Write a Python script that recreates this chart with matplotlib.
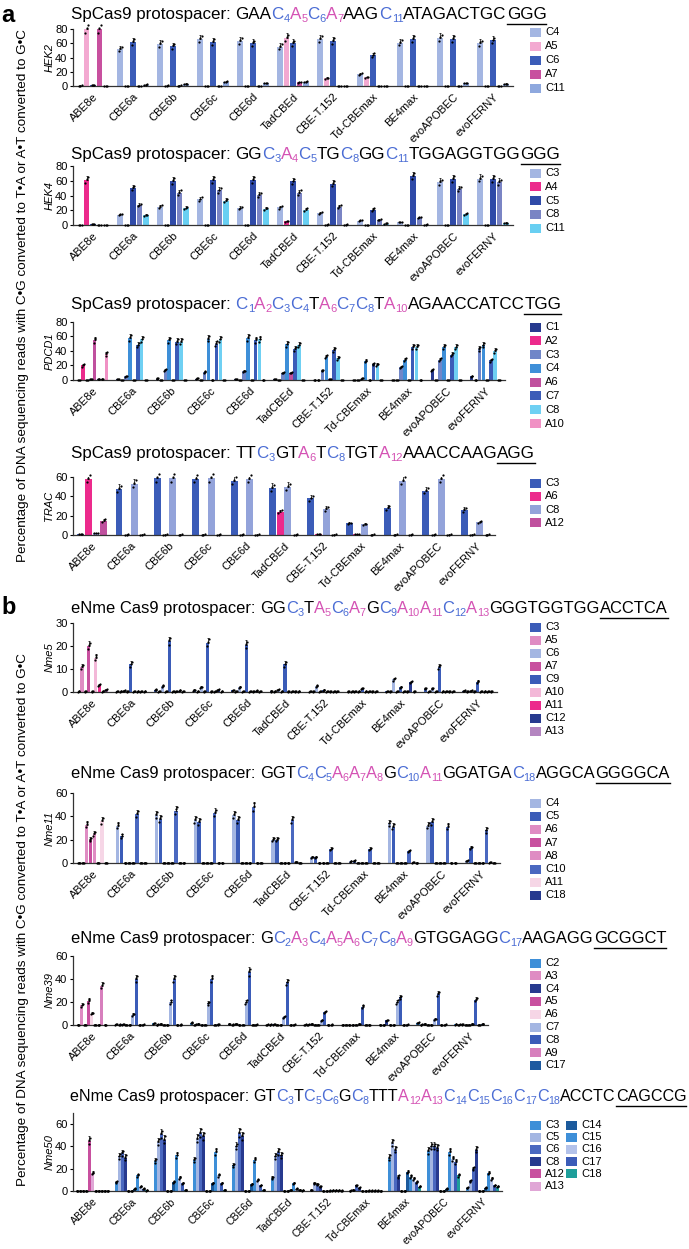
import re
import numpy as np
import matplotlib
matplotlib.use('Agg')
import matplotlib.pyplot as plt
from matplotlib.patches import Rectangle
from matplotlib.lines import Line2D
from matplotlib.transforms import IdentityTransform, ScaledTranslation

plt.rcParams['font.family'] = ['Liberation Sans', 'DejaVu Sans']

# ---------------- data ----------------
EDITORS = ['ABE8e', 'CBE6a', 'CBE6b', 'CBE6c', 'CBE6d', 'TadCBEd', 'CBE-T.152',
           'Td-CBEmax', 'BE4max', 'evoAPOBEC', 'evoFERNY']

HEK2_SITES = ['C4', 'A5', 'C6', 'A7', 'C11']
HEK2_VALUES = [
    [0.5, 80, 1, 80, 0.3],
    [52, 0.3, 62, 0.3, 2],
    [59, 0.5, 56, 0.5, 3],
    [66, 0.3, 62, 0.3, 6],
    [63, 0.3, 60, 0.3, 4],
    [55, 68, 60, 5, 6],
    [66, 11, 63, 0.3, 0.3],
    [17, 12, 43, 0.3, 0.3],
    [61, 0.3, 66, 0.3, 0.3],
    [68, 0.3, 66, 0.3, 4],
    [60, 0.3, 64, 0.3, 3],
]

HEK4_SITES = ['C3', 'A4', 'C5', 'C8', 'C11']
HEK4_VALUES = [
    [0.3, 61, 1, 0.3, 0.3],
    [14, 0.3, 50, 27, 13],
    [25, 0.3, 60, 44, 23],
    [35, 0.3, 61, 47, 33],
    [23, 0.3, 61, 41, 22],
    [24, 5, 59, 44, 21],
    [16, 0.5, 56, 25, 0.5],
    [6, 0.3, 21, 7, 2],
    [4, 0.3, 66, 10, 0.5],
    [58, 0.3, 62, 49, 15],
    [63, 0.3, 62, 58, 3],
]

PDCD1_SITES = ['C1', 'A2', 'C3', 'C4', 'A6', 'C7', 'C8', 'A10']
PDCD1_VALUES = [
    [0.3, 20, 0.3, 1, 55, 1, 1, 36],
    [1, 0.3, 5, 58, 0.3, 48, 56, 0.3],
    [2, 0.3, 14, 55, 0.3, 53, 53, 0.3],
    [2, 0.3, 11, 57, 0.3, 50, 56, 0.3],
    [1, 0.3, 12, 58, 0.3, 55, 56, 0.3],
    [1, 0.3, 10, 49, 10, 43, 48, 0.3],
    [0.3, 0.3, 13, 32, 1, 42, 30, 0.3],
    [0.3, 0.3, 2, 26, 0.3, 22, 21, 0.3],
    [0.3, 0.3, 18, 28, 0.3, 46, 46, 0.3],
    [14, 0.3, 28, 46, 0.3, 35, 45, 0.3],
    [5, 0.3, 43, 48, 0.3, 27, 40, 0.3],
]

TRAC_SITES = ['C3', 'A6', 'C8', 'A12']
TRAC_VALUES = [
    [1, 58, 2, 15],
    [48, 0.3, 53, 0.3],
    [59, 0.3, 59, 0.3],
    [58, 0.3, 59, 0.3],
    [56, 0.3, 58, 0.3],
    [49, 24, 50, 0.3],
    [38, 1, 27, 0.3],
    [12, 1, 11, 0.3],
    [28, 0.3, 56, 0.3],
    [46, 0.3, 58, 0.3],
    [26, 0.3, 13, 0.3],
]

NME5_SITES = ['C3', 'A5', 'C6', 'A7', 'C9', 'A10', 'A11', 'C12', 'A13']
NME5_VALUES = [
    [0.2, 11, 0.2, 20, 0.2, 15, 3, 0.2, 1],
    [0.3, 0.2, 0.5, 0.2, 12, 0.2, 0.2, 0.2, 0.2],
    [1, 0.2, 2.5, 0.2, 22, 0.2, 0.2, 0.6, 0.2],
    [0.8, 0.2, 2, 0.2, 21.5, 0.2, 0.2, 1, 0.2],
    [0.7, 0.2, 2, 0.2, 20.5, 0.2, 0.2, 0.5, 0.2],
    [0.4, 0.2, 1, 0.2, 12, 0.2, 0.2, 0.3, 0.2],
    [0.2, 0.2, 2.5, 0.2, 0.8, 0.2, 0.2, 0.2, 0.2],
    [0.2, 0.2, 0.3, 0.2, 1.5, 0.2, 0.2, 0.2, 0.2],
    [0.3, 0.2, 5.5, 0.2, 2, 0.2, 0.2, 4.3, 0.2],
    [1.5, 0.2, 1.5, 0.2, 11, 0.2, 0.2, 0.3, 0.2],
    [0.5, 0.2, 0.5, 0.2, 4.5, 0.2, 0.2, 0.2, 0.2],
]

NME11_SITES = ['C4', 'C5', 'A6', 'A7', 'A8', 'C10', 'A11', 'C18']
NME11_VALUES = [
    [0.2, 0.2, 33, 20, 25, 0.2, 36, 0.2],
    [32, 23, 0.2, 0.2, 0.2, 42, 0.2, 0.2],
    [41, 38, 0.2, 0.2, 0.2, 45, 0.2, 0.2],
    [37, 35, 0.2, 0.2, 0.2, 43, 0.2, 0.2],
    [41, 37, 0.2, 0.2, 0.2, 48, 0.2, 0.2],
    [20, 20, 0.2, 0.2, 0.2, 37, 1, 0.2],
    [5, 5, 0.2, 0.2, 0.2, 12, 0.2, 0.2],
    [1.5, 2, 0.2, 0.2, 0.2, 12, 0.2, 0.2],
    [34, 31, 0.2, 0.2, 0.2, 10, 0.5, 0.2],
    [32, 35, 0.2, 0.2, 0.2, 31, 0.2, 0.2],
    [2, 13, 0.2, 0.2, 0.2, 28, 0.5, 0.2],
]

NME39_SITES = ['C2', 'A3', 'C4', 'A5', 'A6', 'C7', 'C8', 'A9', 'C17']
NME39_VALUES = [
    [0.2, 17, 0.2, 21, 10, 0.2, 0.2, 34, 0.2],
    [0.5, 0.3, 0.5, 0.2, 0.2, 9, 40, 0.2, 0.3],
    [1.5, 0.3, 1, 0.2, 0.2, 20, 40, 0.2, 0.3],
    [2, 0.3, 1, 0.2, 0.2, 19, 40, 0.2, 0.5],
    [1, 0.3, 1, 0.2, 0.2, 20, 46, 0.2, 0.3],
    [0.3, 0.3, 0.5, 0.2, 0.2, 7, 37, 0.2, 0.3],
    [0.3, 0.3, 1, 0.2, 0.2, 4, 11, 0.2, 0.3],
    [0.2, 0.2, 0.2, 0.2, 0.2, 1, 16, 0.2, 0.2],
    [0.2, 0.2, 4, 0.2, 0.2, 20, 24, 0.2, 0.3],
    [2, 0.3, 1, 0.2, 0.2, 5, 27, 0.2, 0.3],
    [0.5, 0.3, 0.5, 0.2, 0.2, 1, 22, 0.2, 1],
]

NME50_SITES = ['C3', 'C5', 'C6', 'C8', 'A12', 'A13', 'C14', 'C15', 'C16', 'C17', 'C18']
NME50_VALUES = [
    [0.2, 0.2, 0.2, 0.2, 45, 16, 0.2, 0.2, 0.2, 0.2, 0.2],
    [8, 31, 34, 30, 0.2, 0.2, 2, 14, 4, 2, 0.5],
    [27, 44, 51, 46, 0.2, 0.2, 8, 32, 12, 7, 1],
    [28, 47, 52, 49, 0.2, 0.2, 7, 35, 14, 7, 1],
    [23, 40, 52, 49, 0.2, 0.2, 6, 28, 10, 5, 1],
    [12, 31, 35, 32, 0.2, 0.2, 1, 7, 2, 1, 0.5],
    [1, 7, 6, 4, 0.2, 0.2, 0.3, 0.5, 0.5, 0.5, 0.3],
    [0.3, 1, 5, 3, 0.2, 0.2, 0.3, 0.3, 0.3, 0.3, 0.2],
    [30, 43, 37, 13, 0.2, 0.2, 17, 13, 11, 8, 4],
    [36, 40, 40, 39, 0.2, 0.2, 2, 35, 29, 26, 14],
    [3, 9, 20, 37, 0.2, 0.2, 3, 16, 11, 5, 4],
]

TITLES = [
    ('SpCas9 protospacer: ', 'GAA[C4][A5][C6][A7]AAG[C11]ATAGACTGC|GGG'),
    ('SpCas9 protospacer: ', 'GG[C3][A4][C5]TG[C8]GG[C11]TGGAGGTGG|GGG'),
    ('SpCas9 protospacer: ', '[C1][A2][C3][C4]T[A6][C7][C8]T[A10]AGAACCATCC|TGG'),
    ('SpCas9 protospacer: ', 'TT[C3]GT[A6]T[C8]TGT[A12]AAACCAAG|AGG'),
    ('eNme Cas9 protospacer: ', 'GG[C3]T[A5][C6][A7]G[C9][A10][A11][C12][A13]GGGTGGTGG|ACCTCA'),
    ('eNme Cas9 protospacer: ', 'GGT[C4][C5][A6][A7][A8]G[C10][A11]GGATGA[C18]AGGCA|GGGGCA'),
    ('eNme Cas9 protospacer: ', 'G[C2][A3][C4][A5][A6][C7][C8][A9]GTGGAGG[C17]AAGAGG|GCGGCT'),
    ('eNme Cas9 protospacer: ', 'GT[C3]T[C5][C6]G[C8]TTT[A12][A13][C14][C15][C16][C17][C18]ACCTC|CAGCCG'),
]

YLABEL = 'Percentage of DNA sequencing reads with C\u2022G converted to T\u2022A or A\u2022T converted to G\u2022C'

# ---------------- styles ----------------
LB = '#a4b6e2'; BL = '#3b5cb8'; NV = '#273a8f'; SL = '#7a84c4'; SK = '#3e8fd8'
CY = '#68cff2'; TE = '#1e9e9a'; LP = '#f3a9d1'; HP = '#ec2a8c'; MG = '#c8509f'
PK = '#df8cc3'; VLP = '#f6d6e6'; PP = '#b485c0'

HEK2_COLORS = [LB, LP, BL, MG, '#8ea8de']
HEK4_COLORS = [LB, HP, '#2f4aa8', SL, CY]
PDCD1_COLORS = [NV, HP, '#7086c8', SK, '#c0509e', BL, '#6fd0f3', '#f091c4']
TRAC_COLORS = [BL, HP, '#93a3da', '#c0509e']
NME5_COLORS = [BL, PK, LB, MG, BL, '#f3b8d8', HP, NV, PP]
NME11_COLORS = [LB, BL, PK, MG, PK, '#4a68c0', VLP, NV]
NME39_COLORS = [SK, PK, NV, MG, VLP, LB, BL, '#d77fbd', '#1e5aa0']
NME50_COLORS = [SK, LB, '#4a68c0', NV, MG, '#e0a6d6', '#1c5a9c', SK, '#b3c2ea', BL, TE]

SEQ_C = '#4a6cd4'
SEQ_A = '#d452b4'

W, H = 689, 1249
fig = plt.figure(figsize=(W / 100, H / 100), dpi=100)
renderer = fig.canvas.get_renderer()


def fx(x):
    return x / W


def fy(y):
    return 1 - y / H


def parse(markup):
    segs = []
    ul = False
    buf = ''
    for base, num, bar, plain in re.findall(r'\[([AC])(\d+)\]|(\|)|([A-Z])', markup):
        if plain:
            buf += plain
            continue
        if buf:
            segs.append((buf, 'black', False, ul))
            buf = ''
        if bar:
            ul = True
        else:
            col = SEQ_C if base == 'C' else SEQ_A
            segs.append((base, col, False, ul))
            segs.append((num, col, True, ul))
    if buf:
        segs.append((buf, 'black', False, ul))
    return segs


def draw_title(prefix, markup, x0, yc, fs, keep=True):
    fpx = fs * 100 / 72
    base = H - yc - fpx * 0.36
    x = x0
    arts = []
    ul_start = None
    segs = [(prefix, 'black', False, False)] + parse(markup)
    for text, col, sub, ul in segs:
        size = fs * 0.66 if sub else fs
        yb = base - (fpx * 0.2 if sub else 0)
        t = fig.text(x, yb, text, fontsize=size, color=col, va='baseline', ha='left',
                     transform=IdentityTransform())
        arts.append(t)
        wdt = t.get_window_extent(renderer).width
        if ul and ul_start is None:
            ul_start = x
        x += wdt
    if keep:
        fig.add_artist(Line2D([ul_start, x], [base - fpx * 0.3] * 2, color='black', lw=1.0,
                              transform=IdentityTransform()))
    else:
        for a in arts:
            a.remove()
    return x - x0


def panel(sites, colors, values, top, bottom, ymax, yticks, ylabel, left=73, right=510, gw=0.8,
          xfs=8):
    ax = fig.add_axes([fx(left), fy(bottom), (right - left) / W, (bottom - top) / H])
    vals = np.array(values, dtype=float)
    n = len(sites)
    w = gw / n
    x = np.arange(len(EDITORS))
    for j in range(n):
        xs = x - gw / 2 + w * (j + 0.5)
        v = vals[:, j]
        ax.bar(xs, v, width=w * 0.9, color=colors[j], edgecolor='none', zorder=2)
        spread = 0.06 * v + 0.2
        ax.errorbar(xs, v, yerr=[np.zeros_like(v), spread * 1.4], fmt='none', ecolor='black',
                    elinewidth=0.5, capsize=0.8, capthick=0.5, zorder=3)
        for k, d in enumerate((-1.0, 0.3, 1.0)):
            ax.scatter(xs + (k - 1) * w * 0.22, v + d * spread, s=2.6, color='black',
                       linewidths=0, zorder=4, clip_on=False)
    ax.set_xlim(-0.5, len(EDITORS) - 0.5)
    ax.set_ylim(0, ymax)
    ax.set_yticks(yticks)
    ax.set_xticks(x)
    ax.set_xticklabels(EDITORS, rotation=45, ha='right', rotation_mode='anchor', fontsize=xfs)
    shift = ScaledTranslation(8 / 100, 0, fig.dpi_scale_trans)
    for lab in ax.get_xticklabels():
        lab.set_transform(lab.get_transform() + shift)
    ax.tick_params(axis='x', length=0, pad=4)
    ax.tick_params(axis='y', length=2.5, width=0.8, labelsize=8, pad=1.5)
    for s in ('top', 'right'):
        ax.spines[s].set_visible(False)
    for s in ('left', 'bottom'):
        ax.spines[s].set_linewidth(0.9)
        ax.spines[s].set_color('#333333')
    ax.set_ylabel(ylabel, fontstyle='italic', fontsize=8, labelpad=0.5)
    ax.patch.set_alpha(0)
    return ax


def legend(sites, colors, x0, ytop, dy, split=None, colw=36):
    for i, (s, c) in enumerate(zip(sites, colors)):
        col = 0 if (split is None or i < split) else 1
        row = i if col == 0 else i - split
        bx = x0 + col * colw
        cy = ytop + row * dy
        fig.add_artist(Rectangle((fx(bx), fy(cy + 4.5)), 11 / W, 9 / H, transform=fig.transFigure,
                                 facecolor=c, edgecolor='none'))
        fig.text(fx(bx + 15), fy(cy), s, fontsize=8, va='center', ha='left')


# --- titles ---
X0 = 71
wprobe = draw_title(TITLES[7][0], TITLES[7][1], 70, 600, 10, keep=False)
TFS8 = 10 * (688 - 70) / wprobe
TITLE_Y = [13, 153, 303, 452, 607, 772, 937, 1095]
TITLE_FS = [TFS8 * 1.05] * 4 + [TFS8 * 1.025] * 3 + [TFS8]
TITLE_X = [X0] * 7 + [70]
for (p, m), yc, fs, xs in zip(TITLES, TITLE_Y, TITLE_FS, TITLE_X):
    draw_title(p, m, xs, yc, fs)

# --- panels ---
panel(HEK2_SITES, HEK2_COLORS, HEK2_VALUES, 29, 86, 80, [0, 20, 40, 60, 80], 'HEK2', right=513)
legend(HEK2_SITES, HEK2_COLORS, 530, 32, 14)
panel(HEK4_SITES, HEK4_COLORS, HEK4_VALUES, 166, 225, 80, [0, 20, 40, 60, 80], 'HEK4', right=513)
legend(HEK4_SITES, HEK4_COLORS, 530, 173, 13.8)
panel(PDCD1_SITES, PDCD1_COLORS, PDCD1_VALUES, 322, 380, 80, [0, 20, 40, 60, 80], 'PDCD1', right=505)
legend(PDCD1_SITES, PDCD1_COLORS, 530, 327, 13.8)
panel(TRAC_SITES, TRAC_COLORS, TRAC_VALUES, 477, 535, 60, [0, 20, 40, 60], 'TRAC', right=495)
legend(TRAC_SITES, TRAC_COLORS, 530, 483, 13.3)
panel(NME5_SITES, NME5_COLORS, NME5_VALUES, 623, 692, 30, [0, 10, 20, 30], 'Nme5', right=497)
legend(NME5_SITES, NME5_COLORS, 530, 627, 13)
panel(NME11_SITES, NME11_COLORS, NME11_VALUES, 793, 863, 60, [0, 20, 40, 60], 'Nme11', right=500)
legend(NME11_SITES, NME11_COLORS, 530, 803, 13.2)
panel(NME39_SITES, NME39_COLORS, NME39_VALUES, 956, 1025, 60, [0, 20, 40, 60], 'Nme39', right=488)
legend(NME39_SITES, NME39_COLORS, 530, 963, 12.8)
panel(NME50_SITES, NME50_COLORS, NME50_VALUES, 1113, 1191, 70, [0, 20, 40, 60], 'Nme50',
      right=502, gw=0.86, xfs=7.6)
legend(NME50_SITES, NME50_COLORS, 530, 1125, 12.2, split=6)

# --- big labels ---
fig.text(fx(1), fy(15), 'a', fontsize=17, fontweight='bold', va='center', ha='left')
fig.text(fx(1), fy(607), 'b', fontsize=17, fontweight='bold', va='center', ha='left')
t = fig.text(fx(23), fy(296), YLABEL, rotation=90, fontsize=10, va='center', ha='center')
h = t.get_window_extent(renderer).height
YFS = 10 * 533 / h
t.set_fontsize(YFS)
fig.text(fx(23), fy(920), YLABEL, rotation=90, fontsize=YFS, va='center', ha='center')

fig.savefig('out.png', dpi=100)
